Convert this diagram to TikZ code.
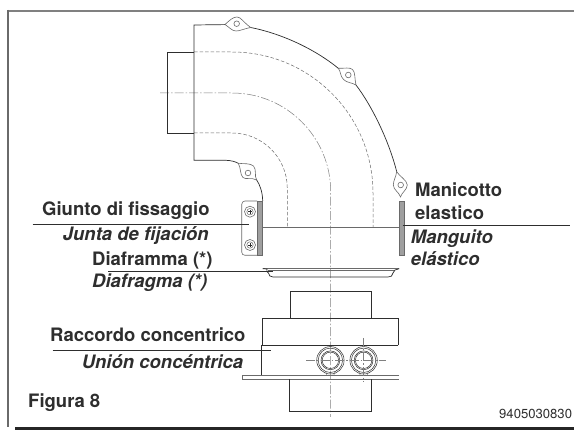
\documentclass[tikz,border=0pt]{standalone}
\usepackage{fontspec}
\setmainfont{TeX Gyre Heros}
\definecolor{ink}{HTML}{2E2E2E}
\definecolor{soft}{HTML}{6A6A6A}
\tikzset{
  x=1pt,y=-1pt,
  lbl/.style={anchor=base west,inner sep=0pt,text=ink,font=\fontsize{18.5}{20}\selectfont\bfseries},
  lbli/.style={anchor=base west,inner sep=0pt,text=ink,font=\fontsize{18.5}{20}\selectfont\bfseries\itshape},
  leader/.style={draw=ink,line width=0.8pt},
  part/.style={draw=ink,line width=0.7pt},
  thin part/.style={draw=soft,line width=0.6pt},
  hidden/.style={draw=soft,line width=0.5pt,dash pattern=on 3.5pt off 2pt},
  axis/.style={draw=soft,line width=0.5pt,dash pattern=on 9pt off 2pt on 1.5pt off 2pt},
  strip/.style={draw=soft,line width=0.6pt,fill=gray!75},
}
\begin{document}
\begin{tikzpicture}
\useasboundingbox (0,0) rectangle (574,430);
\fill[white] (0,0) rectangle (574,430);
% frame
\draw[draw=gray,line width=1.6pt] (574,10.8) -- (8,10.8);
\draw[draw=soft,line width=1.3pt] (8,10) -- (8,427);
\fill[black!85] (15,427) rectangle (574,430);
% centre lines and hidden lines of the bend
\begin{scope}[shift={(232,193)}]
  \draw[hidden] (-38,-141) -- (0,-141) arc[start angle=-90,end angle=0,radius=141] -- (141,35);
\end{scope}
\begin{scope}[shift={(232,191)}]
  \draw[axis,draw=gray] (-72,-98) -- (0,-98) arc[start angle=-90,end angle=0,radius=98.7] -- (98.7,226);
\end{scope}
\begin{scope}[shift={(232,188)}]
  \draw[hidden] (-38,-55) -- (0,-55) arc[start angle=-90,end angle=0,radius=55.3] -- (55.3,40);
\end{scope}
% bend outline
\draw[part] (167,52.3) -- (194,52.3) (167,52.3) -- (167,133.3) -- (194,133.3);
\draw[part] (225,24.6) -- (194,25) -- (194,160.3) -- (226,160.3) .. controls (231,160.5) and (235,161.5) .. (238.3,163.3);
\draw[part] (250.7,27.5) .. controls (281,33.5) and (314,48.5) .. (338.3,68.3);
\draw[part] (356,85) .. controls (372,106) and (389,141) .. (396.7,171.7);
\draw[part] (256.7,180) .. controls (260,185) and (262.5,192) .. (262.7,201);
% lugs
\draw[thin part] (225,24.5) .. controls (230,20) and (233,17) .. (237,17) .. controls (241,17) and (243,22) .. (250.7,27.5)
   .. controls (243,29) and (240,31) .. (236,31) .. controls (232,31) and (229,27) .. (225,24.5) -- cycle;
\draw[thin part] (338.3,68.3) .. controls (345,68.5) and (349.5,67) .. (352.5,69.5) .. controls (355.5,72) and (354.5,79) .. (356,85)
   .. controls (352,82.5) and (347,83) .. (343.5,79.5) .. controls (340,76) and (341,71.5) .. (338.3,68.3) -- cycle;
\draw[thin part] (396.7,171.7) .. controls (399,176) and (407,180) .. (407.3,185) .. controls (407,190) and (402,192) .. (400.5,197)
   .. controls (399,192) and (393.5,190) .. (393.3,185) .. controls (393.5,180) and (396,177) .. (396.7,171.7) -- cycle;
\draw[thin part] (238.3,163.3) .. controls (244,164) and (250,163) .. (253.5,166) .. controls (257,170) and (254,176) .. (256.7,180)
   .. controls (251,177) and (246,180) .. (243,177.5) .. controls (240,175) and (241,168) .. (238.3,163.3) -- cycle;
\foreach \n/\p/\q in {a/236.7/23.7,b/348.3/75,c/400.7/185,d/248/173}{
  \draw[thin part] (\p,\q) circle[radius=2.8];
}
% clamp, strips and sleeve
\draw[thin part] (257,201) -- (245,201) .. controls (243,201) and (241.7,202.5) .. (241.7,204.5) -- (241.7,252)
   .. controls (241.7,254) and (243,255.3) .. (245,255.3) -- (257,255.3);
\foreach \q in {211.7,245}{
  \draw[thin part] (250,\q) circle[radius=5.5];
  \draw[thin part,line width=0.5pt] (250,\q) circle[radius=3.2];
  \draw[part,line width=0.5pt] (248,\q) -- (252,\q) (250,\q-2) -- (250,\q+2);
}
\draw[strip] (257.3,201) rectangle (262.7,255.3);
\draw[strip] (399.3,201) rectangle (404.3,255.3);
\draw[thin part] (262.7,227.8) -- (399.3,227.8);
% diaphragm
\draw[part,draw=soft] (262.7,268.7) -- (399.3,268.7);
\draw[thin part,line width=0.5pt] (268,270.5) -- (394,270.5);
\draw[part] (262.7,268.7) -- (267,269) .. controls (266,271) and (267,272.5) .. (268.5,273) .. controls (268.5,275.5) and (270.5,277) .. (273,277)
   -- (388,277) .. controls (391,277) and (392.5,276) .. (393,273) -- (395,270) -- (399.3,268.7);
% concentric fitting
\draw[part] (290,318) -- (290,291) -- (371.7,291) -- (371.7,318);
\draw[part] (262.3,345) -- (262.3,318) -- (398.3,318) -- (398.3,345);
\draw[part] (398.3,345) -- (261.3,345) -- (261.3,375);
\draw[thin part,line width=0.8pt] (399,375) -- (242.3,375) -- (242.3,379.3) -- (399,379.3);
\draw[part] (289.3,379.3) -- (289.3,411.7) -- (371.7,411.7) -- (371.7,379.3);
\foreach \p in {330.4,363.6}{
  \foreach \r in {13.7,12.2,9.4,8.2}{
    \draw[part,line width=0.5pt] (\p,360.3) circle[radius=\r];
  }
  \draw[thin part,line width=0.5pt] (\p-4.5,372) -- (\p-3.5,375) (\p+4.5,372) -- (\p+3.5,375);
}
\draw[axis,draw=gray] (306,360.3) -- (385.7,360.3);
\draw[axis,draw=gray] (363.6,338) -- (363.6,381.7);
% labels
\node[lbl]  (giunto)    at (42,216)      {Giunto di fissaggio};
\node[lbli] (junta)     at (62.7,240.7)  {Junta de fijación};
\node[lbl]  (diaframma) at (92,266)      {Diaframma (*)};
\node[lbli] (diafragma) at (92,288)      {Diafragma (*)};
\node[lbl]  (raccordo)  at (50,341.7)    {Raccordo concentrico};
\node[lbli] (union)     at (81.7,369)    {Unión concéntrica};
\node[lbl]  (figura)    at (28,408)      {Figura 8};
\node[lbl]  (manicotto) at (415,196.7)   {Manicotto};
\node[lbl]  (elastico)  at (415,219.3)   {elastico};
\node[lbli] (manguito)  at (410.7,243.3) {Manguito};
\node[lbli] (elast)     at (410.7,266)   {elástico};
\node[anchor=base west,inner sep=0pt,text=ink,font=\fontsize{13.1}{15}\selectfont] (code) at (499,419) {9405030830};
% leaders
\coordinate (g0) at (32.7,224.3); \coordinate (g1) at (249,224.3);
\coordinate (d0) at (108,271.7);  \coordinate (d1) at (273,271.7);
\coordinate (r0) at (52.7,350.7); \coordinate (r1) at (271,350.7);
\coordinate (m0) at (402.7,225);  \coordinate (m1) at (570,225);
\draw[leader] (g0) -- (g1);
\draw[leader] (d0) -- (d1);
\draw[leader] (r0) -- (r1);
\draw[leader] (m0) -- (m1);
\end{tikzpicture}
\end{document}
